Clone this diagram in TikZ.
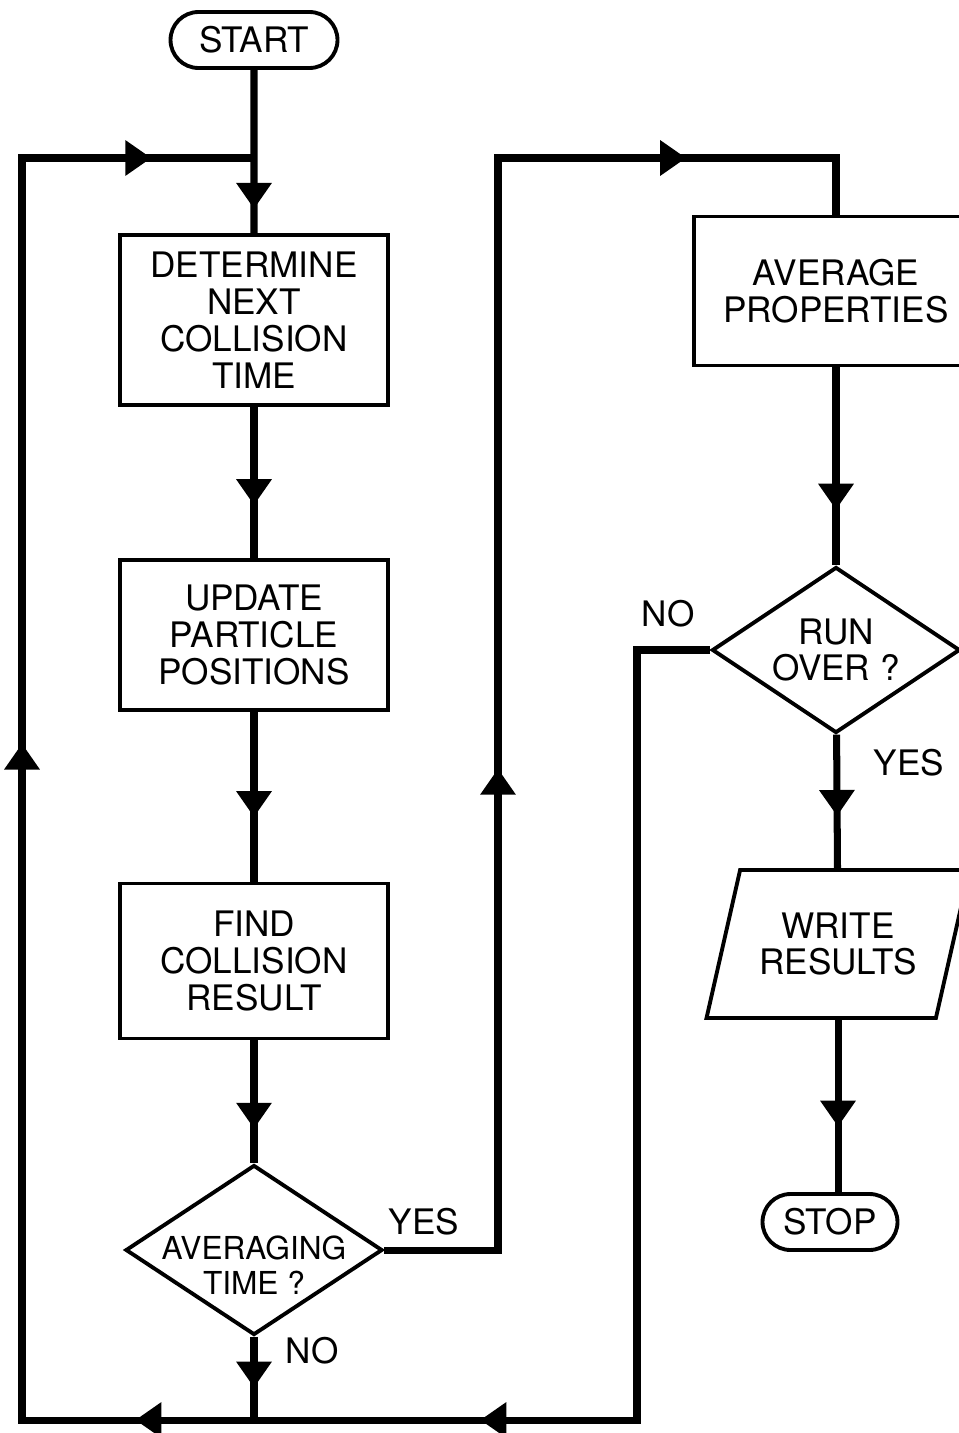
\documentclass[tikz,border=0pt]{standalone}
\usepackage{fontspec}
\setmainfont{TeX Gyre Heros}
\usepackage{tikz}
\usetikzlibrary{positioning, shapes.geometric, shapes.misc, arrows.meta, decorations.markings}
\newcommand{\flowfont}{\fontsize{20}{21}\selectfont}
\newcommand{\smallflowfont}{\fontsize{18}{20}\selectfont}
\tikzset{
  base_n/.style = {align=center, inner sep=0pt, draw, line width=2.2pt},
  proc_n/.style = {base_n, rectangle, minimum width=5.36cm},
  dec_n/.style = {base_n, diamond},
  term_n/.style = {base_n, rounded rectangle},
  io_n/.style = {base_n, trapezium, trapezium left angle=62,
    trapezium right angle=118, trapezium stretches body=true},
  txt_n/.style = {inner sep=0pt},
  flow/.style = {line width=4pt},
  arr_at/.style = {postaction={decorate, decoration={markings,
    mark=at position #1 with {\arrow{>}}}}}
}

\begin{document}
\begin{tikzpicture}[x=0.02cm, y=-0.02cm, font=\flowfont,
  >={Triangle[length=0.52cm, width=0.68cm]}]
\useasboundingbox (0,0) rectangle (958,1433);

% left column
\node [term_n, minimum width=3.34cm, minimum height=1.12cm] (start) at (254,40) {START};
\node [proc_n, minimum height=3.4cm] (box1) at (254,320) {DETERMINE\\NEXT\\COLLISION\\TIME};
\node [proc_n, minimum height=3.0cm] (box2) at (254,635) {UPDATE\\PARTICLE\\POSITIONS};
\node [proc_n, minimum height=3.1cm] (box3) at (254,961) {FIND\\COLLISION\\RESULT};
\node [dec_n, minimum width=5.14cm, minimum height=3.4cm,
  label={[align=center, font=\smallflowfont, yshift=-0.3cm]center:AVERAGING\\TIME ?}]
  (avg_t) at (254,1250) {};

% right column
\node [proc_n, minimum width=5.68cm, minimum height=2.98cm] (avg) at (836,291) {AVERAGE\\PROPERTIES};
\node [dec_n, minimum width=4.96cm, minimum height=3.32cm,
  label={[align=center]center:RUN\\OVER ?}] (run) at (836,650) {};
\node [io_n, minimum width=5.26cm, minimum height=2.96cm] (io) at (838,944) {WRITE\\RESULTS};
\node [term_n, minimum width=2.7cm, minimum height=1.12cm] (stop) at (830,1222) {STOP};

% branch labels
\node [txt_n] (no_run) at (668,614) {NO};
\node [txt_n] (yes_run) at (909,763) {YES};
\node [txt_n] (yes_avg) at (424,1222) {YES};
\node [txt_n] (no_avg) at (312,1351) {NO};

\coordinate (j_top) at (254,158);
\coordinate (j_bot) at (254,1420);
\coordinate (c_bl) at (22,1420);
\coordinate (c_br) at (637,1420);
\coordinate (c_yes) at (498,158);

% connectors
\draw [flow, arr_at=2.78cm] (start) -- (box1);
\draw [flow, arr_at=0.65] (box1) -- (box2);
\draw [flow, arr_at=0.62] (box2) -- (box3);
\draw [flow, arr_at=0.72] (box3) -- (avg_t);
\draw [flow, arr_at=0.61] (avg_t) -- (j_bot);
\draw [flow, arr_at=20cm, arr_at=26.9cm, arr_at=42.7cm, arr_at=57cm]
  (run.west) -| (c_br) -- (c_bl) |- (j_top);
\draw [flow, arr_at=11.9cm, arr_at=27.88cm] (avg_t.east) -| (c_yes) -| (avg.north);
\draw [flow, arr_at=0.72] (avg) -- (run);
\draw [flow, arr_at=0.61] (run) -- (io);
\draw [flow, arr_at=0.62] (io.south) -- (io.south |- stop.north);
\end{tikzpicture}
\end{document}
